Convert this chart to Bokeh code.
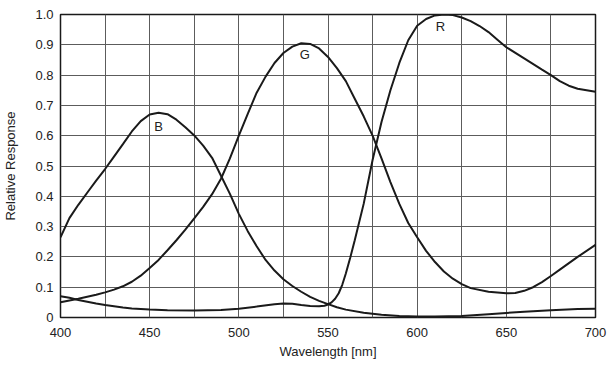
from bokeh.plotting import figure
from bokeh.models import FixedTicker, CustomJSTickFormatter, Range1d
from bokeh.core.properties import value
from bokeh.embed import file_html
from bokeh.resources import INLINE

# ---- data ----
b_nm = [400, 405, 410, 416, 420, 425, 430, 435, 440, 445, 450, 455, 460, 465, 470, 475,
        480, 485, 490, 495, 500, 505, 510, 515, 520, 525, 530, 535, 540, 545, 550, 555,
        560, 570, 580, 590, 600, 610, 625, 640, 650, 660, 675, 690, 700]
b_val = [0.265, 0.328, 0.372, 0.42, 0.452, 0.49, 0.531, 0.572, 0.614, 0.648, 0.670, 0.676,
         0.671, 0.653, 0.628, 0.601, 0.567, 0.527, 0.468, 0.408, 0.342, 0.285, 0.235,
         0.19, 0.155, 0.126, 0.104, 0.085, 0.068, 0.055, 0.044, 0.034, 0.026, 0.016,
         0.009, 0.005, 0.003, 0.003, 0.005, 0.011, 0.015, 0.019, 0.024, 0.028, 0.029]

g_nm = [400, 405, 410, 420, 425, 430, 435, 440, 445, 450, 455, 460, 465, 470, 475, 480,
        485, 490, 495, 500, 505, 510, 515, 520, 525, 530, 535, 540, 545, 550, 555, 560,
        565, 570, 575, 580, 585, 590, 595, 600, 605, 610, 615, 620, 625, 630, 640, 650,
        655, 660, 665, 670, 675, 680, 690, 700]
g_val = [0.05, 0.056, 0.062, 0.075, 0.083, 0.092, 0.103, 0.118, 0.138, 0.163, 0.19, 0.222,
         0.255, 0.29, 0.327, 0.365, 0.407, 0.458, 0.525, 0.60, 0.672, 0.742, 0.795, 0.84,
         0.873, 0.894, 0.905, 0.903, 0.888, 0.86, 0.823, 0.78, 0.722, 0.664, 0.60, 0.525,
         0.447, 0.375, 0.312, 0.265, 0.22, 0.183, 0.152, 0.128, 0.11, 0.097, 0.085, 0.08,
         0.081, 0.088, 0.1, 0.117, 0.137, 0.158, 0.2, 0.24]

r_nm = [400, 405, 410, 415, 420, 425, 430, 435, 440, 450, 460, 475, 490, 500, 510, 520,
        525, 530, 535, 540, 545, 548, 550, 552, 554, 556, 558, 560, 562.5, 565, 570, 575,
        580, 585, 590, 595, 600, 605, 610, 615, 620, 625, 630, 635, 640, 645, 650, 660,
        670, 675, 680, 685, 690, 700]
r_val = [0.07, 0.065, 0.058, 0.052, 0.046, 0.041, 0.037, 0.033, 0.03, 0.026, 0.024, 0.023,
         0.025, 0.029, 0.036, 0.044, 0.046, 0.045, 0.041, 0.038, 0.037, 0.039, 0.043,
         0.05, 0.062, 0.08, 0.108, 0.145, 0.198, 0.255, 0.375, 0.52, 0.645, 0.75, 0.84,
         0.915, 0.963, 0.985, 0.997, 1.0, 0.998, 0.99, 0.978, 0.962, 0.942, 0.917, 0.892,
         0.855, 0.818, 0.80, 0.78, 0.765, 0.755, 0.745]

labels = ["B", "G", "R"]
label_nm = [455, 537, 613]
label_val = [0.63, 0.868, 0.96]

x_ticks = [400, 450, 500, 550, 600, 650, 700]
x_grid = [400, 425, 450, 475, 500, 525, 550, 575, 600, 625, 650, 675, 700]
y_ticks = [0, 0.1, 0.2, 0.3, 0.4, 0.5, 0.6, 0.7, 0.8, 0.9, 1.0]

FONT = "Liberation Sans"

p = figure(width=612, height=366, output_backend="svg", toolbar_location=None,
           x_range=Range1d(400, 700), y_range=Range1d(0, 1),
           min_border_left=59, min_border_right=17, min_border_top=14, min_border_bottom=49)

p.background_fill_color = "white"
p.border_fill_color = "white"
p.outline_line_color = "#1a1a1a"
p.outline_line_width = 1.5

p.xaxis.ticker = FixedTicker(ticks=x_ticks)
p.yaxis.ticker = FixedTicker(ticks=y_ticks)
p.xgrid.ticker = FixedTicker(ticks=x_grid)
p.ygrid.ticker = FixedTicker(ticks=y_ticks)
p.yaxis.formatter = CustomJSTickFormatter(code="return tick == 0 ? '0' : tick.toFixed(1);")

for g in (p.xgrid, p.ygrid):
    g.grid_line_color = "#5c5c5c"
    g.grid_line_width = 1

for ax in (p.xaxis, p.yaxis):
    ax.axis_line_color = None
    ax.major_tick_line_color = None
    ax.minor_tick_line_color = None
    ax.major_label_text_font = FONT
    ax.major_label_text_font_size = "13px"
    ax.major_label_text_color = "#222222"
    ax.axis_label_text_font = FONT
    ax.axis_label_text_font_size = "13px"
    ax.axis_label_text_font_style = "normal"
    ax.axis_label_text_color = "#222222"
    ax.major_tick_out = 0
    ax.major_tick_in = 0

p.xaxis.axis_label = "Wavelength [nm]"
p.yaxis.axis_label = "Relative Response"
p.xaxis.major_label_standoff = 10
p.xaxis.axis_label_standoff = 4
p.yaxis.major_label_standoff = 7
p.yaxis.axis_label_standoff = 14

for xs, ys in ((b_nm, b_val), (g_nm, g_val), (r_nm, r_val)):
    p.line(xs, ys, line_color="#1a1a1a", line_width=2)

p.text(x=label_nm, y=label_val, text=labels, text_font=value(FONT),
       text_font_size="13px", text_color="#222222",
       text_align="center", text_baseline="middle")

open("out.html", "w").write(file_html(p, INLINE))
